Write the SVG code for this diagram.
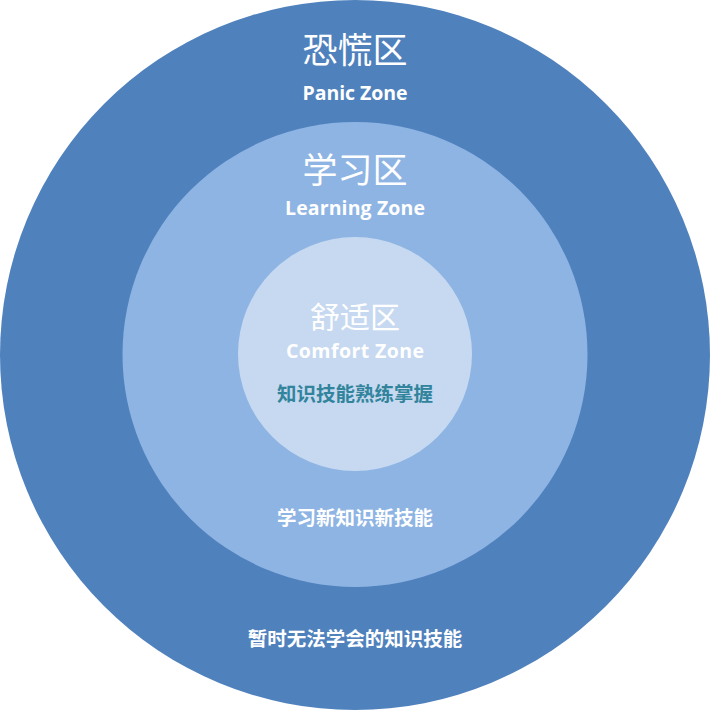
<svg xmlns="http://www.w3.org/2000/svg" width="710" height="710" viewBox="0 0 710 710">
<style>
.cn{font-family:"Noto Sans CJK SC","Noto Sans",sans-serif;fill:#ffffff;text-anchor:middle}
.en{font-family:"Open Sans","Noto Sans",sans-serif;font-weight:bold;fill:#ffffff;text-anchor:middle;font-size:19.5px}
.desc{font-family:"Noto Sans CJK SC","Noto Sans",sans-serif;font-weight:bold;font-size:19.5px;text-anchor:middle}
</style>
<rect width="710" height="710" fill="#ffffff"/>
<g id="panic-zone">
<circle cx="355" cy="355" r="355" fill="#4F81BD"/>
<text class="cn" x="355" y="63" font-size="35">恐慌区</text>
<text class="en" x="355" y="100" textLength="105" lengthAdjust="spacing">Panic Zone</text>
<text class="desc" x="355" y="646" fill="#ffffff">暂时无法学会的知识技能</text>
</g>
<g id="learning-zone">
<circle cx="355" cy="354.5" r="232.5" fill="#8EB4E3"/>
<text class="cn" x="355" y="183" font-size="35">学习区</text>
<text class="en" x="355" y="215" textLength="140" lengthAdjust="spacing">Learning Zone</text>
<text class="desc" x="355" y="525" fill="#ffffff">学习新知识新技能</text>
</g>
<g id="comfort-zone">
<circle cx="355" cy="354" r="117" fill="#C6D9F1"/>
<text class="cn" x="355" y="328" font-size="30">舒适区</text>
<text class="en" x="355" y="358" textLength="138" lengthAdjust="spacing">Comfort Zone</text>
<text class="desc" x="355" y="401" fill="#31849B">知识技能熟练掌握</text>
</g>
</svg>
